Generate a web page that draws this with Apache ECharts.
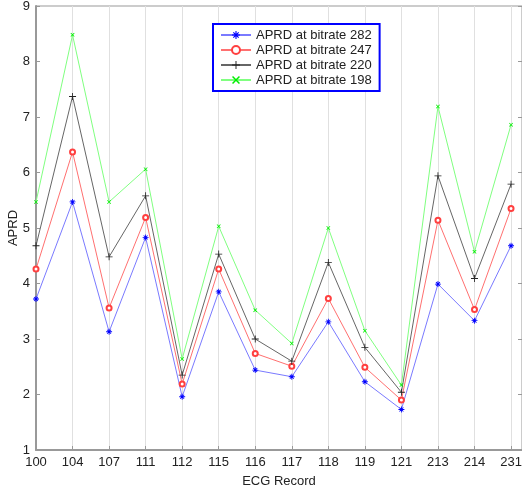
<!DOCTYPE html>
<html>
<head>
<meta charset="utf-8">
<script src="https://cdn.jsdelivr.net/npm/echarts@6/dist/echarts.min.js"></script>
<style>
  html, body { margin: 0; padding: 0; background: #fff; }
  #chart { width: 522px; height: 490px; }
</style>
</head>
<body>
<div id="chart"></div>
<script>
// ECG records on the x axis
const records = ['100', '104', '107', '111', '112', '115', '116', '117', '118', '119', '121', '213', '214', '231']

// APRD per bitrate
const aprd282 = [3.72, 5.47, 3.13, 4.83, 1.96, 3.85, 2.44, 2.32, 3.31, 2.23, 1.73, 3.99, 3.33, 4.68]
const aprd247 = [4.26, 6.37, 3.56, 5.19, 2.19, 4.26, 2.74, 2.51, 3.73, 2.49, 1.90, 5.14, 3.53, 5.35]
const aprd220 = [4.68, 7.37, 4.48, 5.58, 2.35, 4.53, 3.00, 2.60, 4.38, 2.85, 2.04, 5.94, 4.09, 5.79]
const aprd198 = [5.47, 8.48, 5.47, 6.06, 2.64, 5.03, 3.52, 2.92, 5.00, 3.15, 2.17, 7.19, 4.57, 6.86]

const yTicks = [1, 2, 3, 4, 5, 6, 7, 8, 9]

const font = 'Liberation Sans, Arial, sans-serif'

// marker shapes (matlab style)
const plusPath = 'path://M4.4,0h1.2v10h-1.2zM0,4.4h10v1.2h-10z'
const starPath = 'path://M4.3,0h1.4v10h-1.4zM0,4.3h10v1.4h-10zM1.2,2.2l1,-1l6.6,6.6l-1,1zM7.8,1.2l1,1l-6.6,6.6l-1,-1z'
const xPath = 'path://M1.2,2.2l1,-1l6.6,6.6l-1,1zM7.8,1.2l1,1l-6.6,6.6l-1,-1z'

function toPoints (vals) {
  return vals.map((v, i) => [i, v])
}

function makeSeries (name, vals, color, lineColor, symbol, size, border) {
  return {
    name: name,
    type: 'line',
    data: toPoints(vals),
    symbol: symbol,
    symbolSize: size,
    showSymbol: true,
    lineStyle: { color: lineColor, width: 1 },
    itemStyle: { color: color, borderColor: color, borderWidth: border },
    emphasis: { disabled: true },
    z: 3
  }
}

const chart = echarts.init(document.getElementById('chart'), null, { renderer: 'canvas' })

const option = {
  animation: false,
  backgroundColor: '#fff',
  textStyle: { fontFamily: font },
  grid: {
    left: 36, right: 0, top: 6, bottom: 40,
    containLabel: false,
    outerBoundsMode: 'none',
    show: true, borderColor: '#999', borderWidth: 1
  },
  legend: {
    orient: 'vertical',
    left: 213, top: 24,
    padding: [4, 8, 4, 7],
    itemWidth: 30, itemHeight: 10, itemGap: 1,
    backgroundColor: '#fff',
    borderColor: '#0000ff', borderWidth: 2, borderRadius: 0,
    textStyle: { fontFamily: font, fontSize: 13, color: '#222', lineHeight: 14 },
    data: ['APRD at bitrate 282', 'APRD at bitrate 247', 'APRD at bitrate 220', 'APRD at bitrate 198']
  },
  xAxis: {
    type: 'value',
    min: 0, max: 13.3, interval: 1,
    name: 'ECG Record',
    nameLocation: 'middle',
    nameGap: 25,
    nameMoveOverlap: false,
    nameTextStyle: { fontFamily: font, fontSize: 13, color: '#222' },
    axisLine: { show: true, lineStyle: { color: '#999', width: 2 } },
    axisTick: { show: true, inside: true, length: 4, lineStyle: { color: '#999' } },
    axisLabel: {
      fontFamily: font, fontSize: 13, color: '#222', margin: 6,
      formatter: v => (Number.isInteger(v) && records[v] !== undefined) ? records[v] : ''
    },
    splitLine: { show: true, lineStyle: { color: '#e0e0e0', width: 1 } }
  },
  yAxis: [{
    type: 'value',
    min: yTicks[0], max: yTicks[yTicks.length - 1], interval: 1,
    name: 'APRD',
    nameLocation: 'middle',
    nameGap: 16,
    nameMoveOverlap: false,
    nameTextStyle: { fontFamily: font, fontSize: 13, color: '#222' },
    axisLine: { show: true, lineStyle: { color: '#999', width: 2 } },
    axisTick: { show: true, inside: true, length: 4, lineStyle: { color: '#999' } },
    axisLabel: { fontFamily: font, fontSize: 13, color: '#222', margin: 6 },
    splitLine: { show: false }
  }, {
    type: 'value',
    position: 'right',
    min: yTicks[0], max: yTicks[yTicks.length - 1], interval: 1,
    axisLine: { show: false },
    axisTick: { show: true, inside: true, length: 4, lineStyle: { color: '#999' } },
    axisLabel: { show: false },
    splitLine: { show: false }
  }],
  series: [
    makeSeries('APRD at bitrate 282', aprd282, '#0000ff', '#7a7aff', starPath, 6, 0),
    makeSeries('APRD at bitrate 247', aprd247, '#ff4040', '#ff7070', 'emptyCircle', 5, 1),
    makeSeries('APRD at bitrate 220', aprd220, '#222222', '#666666', plusPath, 7, 0),
    makeSeries('APRD at bitrate 198', aprd198, '#00ee00', '#80ff80', xPath, 4, 0)
  ]
}

chart.setOption(option)
</script>
</body>
</html>
